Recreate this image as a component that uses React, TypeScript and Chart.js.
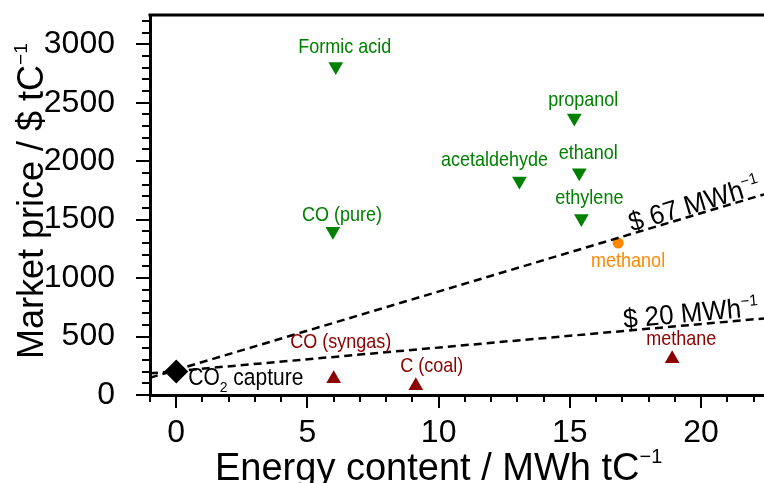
import React, { useEffect, useRef } from 'react';
import { Chart, registerables } from 'chart.js';

Chart.register(...registerables);

const FONT = 'Arial, "Liberation Sans", Helvetica, sans-serif';

const GREEN = '#008000';
const DARK_RED = '#8b0000';
const ORANGE = '#ff8800';

// Value-added chemicals
const productNames = ['Formic acid', 'propanol', 'ethanol', 'acetaldehyde', 'ethylene', 'CO (pure)'];
const productEnergy = [6.08, 15.17, 15.36, 13.08, 15.44, 5.97];
const productPrice = [2810, 2370, 1900, 1830, 1510, 1400];

// Fuels and bulk carbon
const fuelNames = ['CO (syngas)', 'C (coal)', 'methane'];
const fuelEnergy = [6.0, 9.13, 18.9];
const fuelPrice = [140, 80, 310];

const methanolName = ['methanol'];
const methanolEnergy = [16.84];
const methanolPrice = [1300];

const captureEnergy = [0];
const capturePrice = [200];

// Electricity-cost reference lines, end points across the x range
const lineEnergy = [-1, 22.4];
const line67Price = [148, 1716];
const line20Price = [185, 655];

// Axis ranges and labelled ticks
const X_MIN = -1;
const X_MAX = 22.4;
const Y_MIN = 0;
const Y_MAX = 3250;
const xTickValues = [0, 5, 10, 15, 20];
const yTickValues = [0, 500, 1000, 1500, 2000, 2500, 3000];

// Label placement relative to each marker: [dx of text centre, dy of baseline]
const productLabelOffset: [number, number][] = [[9, -13], [9, -12], [9, -14], [-25, -15], [8, -14], [9, -10]];
const fuelLabelOffset: [number, number][] = [[7, -31], [16, -14], [9, -14]];
const methanolLabelOffset: [number, number] = [10, 24];

const LABEL_SIZE = 18;
const LABEL_STRETCH = 1.12;

const pts = (xs: number[], ys: number[]) => xs.map((x, i) => ({ x, y: ys[i] }));

type Part = { t: string; size: number; dy?: number };

function drawRich(
  ctx: CanvasRenderingContext2D,
  x: number,
  y: number,
  parts: Part[],
  align: 'left' | 'center' = 'left',
  stretch = 1,
) {
  let total = 0;
  const widths = parts.map((p) => {
    ctx.font = `${p.size}px ${FONT}`;
    const w = ctx.measureText(p.t).width;
    total += w;
    return w;
  });
  ctx.save();
  ctx.translate(x, y);
  ctx.scale(1, stretch);
  let cx = align === 'center' ? -total / 2 : 0;
  ctx.textAlign = 'left';
  ctx.textBaseline = 'alphabetic';
  parts.forEach((p, i) => {
    ctx.font = `${p.size}px ${FONT}`;
    ctx.fillText(p.t, cx, (p.dy || 0) / stretch);
    cx += widths[i];
  });
  ctx.restore();
}

const decorations = {
  id: 'decorations',
  afterDatasetsDraw(chart: any) {
    const { ctx, chartArea, scales } = chart;
    const xs = scales.x;
    const ys = scales.y;
    ctx.save();

    // top frame line
    ctx.strokeStyle = '#000';
    ctx.lineWidth = 3;
    ctx.beginPath();
    ctx.moveTo(chartArea.left - 1.5, chartArea.top);
    ctx.lineTo(chartArea.right, chartArea.top);
    ctx.stroke();

    // tick marks (major + minor), drawn outside the plot
    ctx.lineWidth = 2;
    for (let v = 0; v <= 3200; v += 100) {
      const py = Math.round(ys.getPixelForValue(v));
      const len = v % 500 === 0 ? 14 : 8;
      ctx.beginPath();
      ctx.moveTo(chartArea.left, py);
      ctx.lineTo(chartArea.left - len, py);
      ctx.stroke();
    }
    for (let v = -1; v <= 22; v += 1) {
      const px = Math.round(xs.getPixelForValue(v));
      const len = v % 5 === 0 ? 13 : 7;
      ctx.beginPath();
      ctx.moveTo(px, chartArea.bottom);
      ctx.lineTo(px, chartArea.bottom + len);
      ctx.stroke();
    }

    // point labels
    ctx.fillStyle = GREEN;
    productNames.forEach((name, i) => {
      const px = xs.getPixelForValue(productEnergy[i]);
      const py = ys.getPixelForValue(productPrice[i]);
      const [dx, dy] = productLabelOffset[i];
      drawRich(ctx, px + dx, py + dy, [{ t: name, size: LABEL_SIZE }], 'center', LABEL_STRETCH);
    });
    ctx.fillStyle = DARK_RED;
    fuelNames.forEach((name, i) => {
      const px = xs.getPixelForValue(fuelEnergy[i]);
      const py = ys.getPixelForValue(fuelPrice[i]);
      const [dx, dy] = fuelLabelOffset[i];
      drawRich(ctx, px + dx, py + dy, [{ t: name, size: LABEL_SIZE }], 'center', LABEL_STRETCH);
    });
    ctx.fillStyle = ORANGE;
    {
      const px = xs.getPixelForValue(methanolEnergy[0]);
      const py = ys.getPixelForValue(methanolPrice[0]);
      drawRich(
        ctx,
        px + methanolLabelOffset[0],
        py + methanolLabelOffset[1],
        [{ t: methanolName[0], size: LABEL_SIZE }],
        'center',
        LABEL_STRETCH,
      );
    }
    ctx.fillStyle = '#000';
    {
      const px = xs.getPixelForValue(captureEnergy[0]);
      const py = ys.getPixelForValue(capturePrice[0]);
      drawRich(
        ctx,
        px + 12,
        py + 13,
        [
          { t: 'CO', size: 21 },
          { t: '2', size: 14, dy: 7 },
          { t: ' capture', size: 21 },
        ],
        'left',
        1.1,
      );
    }

    // line annotations, laid along each line
    const lineLabel = (prices: number[], atX: number, text: string, lift: number) => {
      const x0 = xs.getPixelForValue(lineEnergy[0]);
      const y0 = ys.getPixelForValue(prices[0]);
      const x1 = xs.getPixelForValue(lineEnergy[1]);
      const y1 = ys.getPixelForValue(prices[1]);
      const ang = Math.atan2(y1 - y0, x1 - x0);
      const px = xs.getPixelForValue(atX);
      const t = (px - x0) / (x1 - x0);
      const py = y0 + t * (y1 - y0);
      ctx.save();
      ctx.translate(px, py);
      ctx.rotate(ang);
      drawRich(
        ctx,
        0,
        -lift,
        [
          { t: text, size: 26 },
          { t: '\u22121', size: 15, dy: -11 },
        ],
        'left',
        1.05,
      );
      ctx.restore();
    };
    ctx.fillStyle = '#000';
    lineLabel(line67Price, 17.38, '$ 67 MWh', 2);
    lineLabel(line20Price, 17.07, '$ 20 MWh', 3);

    // axis titles
    drawRich(ctx, 215, 480, [
      { t: 'Energy content / MWh tC', size: 38 },
      { t: '\u22121', size: 20, dy: -17 },
    ]);
    ctx.save();
    ctx.translate(43, 359);
    ctx.rotate(-Math.PI / 2);
    drawRich(ctx, 0, 0, [
      { t: 'Market price / $ tC', size: 36 },
      { t: '\u22121', size: 19, dy: -16 },
    ]);
    ctx.restore();

    ctx.restore();
  },
};

const noPad = (s: any) => {
  s.paddingTop = 0;
  s.paddingBottom = 0;
  s.paddingLeft = 0;
  s.paddingRight = 0;
};

export default function App() {
  const ref = useRef<HTMLCanvasElement>(null);

  useEffect(() => {
    const canvas = ref.current;
    if (!canvas) return;
    const chart = new Chart(canvas, {
      type: 'scatter',
      data: {
        datasets: [
          {
            label: 'CO2 capture',
            data: pts(captureEnergy, capturePrice),
            pointStyle: 'rectRot',
            pointRadius: 12,
            backgroundColor: '#000',
            borderColor: '#000',
            borderWidth: 0,
            order: 0,
          },
          {
            label: 'products',
            data: pts(productEnergy, productPrice),
            pointStyle: 'triangle',
            rotation: 180,
            pointRadius: 8.5,
            backgroundColor: GREEN,
            borderColor: GREEN,
            borderWidth: 0,
            order: 1,
          },
          {
            label: 'fuels',
            data: pts(fuelEnergy, fuelPrice),
            pointStyle: 'triangle',
            pointRadius: 8.5,
            backgroundColor: DARK_RED,
            borderColor: DARK_RED,
            borderWidth: 0,
            order: 2,
          },
          {
            type: 'line',
            label: '$67/MWh',
            data: pts(lineEnergy, line67Price),
            borderColor: '#000',
            borderWidth: 2.5,
            borderDash: [8, 5],
            pointRadius: 0,
            fill: false,
            order: 4,
          },
          {
            type: 'line',
            label: '$20/MWh',
            data: pts(lineEnergy, line20Price),
            borderColor: '#000',
            borderWidth: 2.5,
            borderDash: [8, 5],
            pointRadius: 0,
            fill: false,
            order: 5,
          },
          {
            label: 'methanol',
            data: pts(methanolEnergy, methanolPrice),
            pointStyle: 'circle',
            pointRadius: 5.5,
            backgroundColor: ORANGE,
            borderColor: ORANGE,
            borderWidth: 0,
            order: 6,
          },
        ],
      },
      options: {
        responsive: false,
        animation: false,
        devicePixelRatio: 1,
        layout: { autoPadding: false, padding: { top: 15, right: 0, left: 0, bottom: 0 } },
        plugins: { legend: { display: false }, tooltip: { enabled: false } },
        scales: {
          x: {
            type: 'linear',
            min: X_MIN,
            max: X_MAX,
            grid: { display: false },
            border: { display: true, color: '#000', width: 3 },
            afterBuildTicks: (s: any) => {
              s.ticks = xTickValues.map((value) => ({ value }));
            },
            ticks: {
              color: '#000',
              padding: 11,
              maxRotation: 0,
              autoSkip: false,
              font: { family: FONT, size: 32 },
              callback: (v: any) => String(v),
            },
            afterFit: (s: any) => {
              s.height = 88;
              noPad(s);
            },
          },
          y: {
            type: 'linear',
            min: Y_MIN,
            max: Y_MAX,
            grid: { display: false },
            border: { display: true, color: '#000', width: 3 },
            afterBuildTicks: (s: any) => {
              s.ticks = yTickValues.map((value) => ({ value }));
            },
            ticks: {
              color: '#000',
              padding: 27,
              autoSkip: false,
              font: { family: FONT, size: 32 },
              callback: (v: any) => String(v),
            },
            afterFit: (s: any) => {
              s.width = 150;
              noPad(s);
            },
          },
        },
      },
      plugins: [decorations],
    });
    return () => chart.destroy();
  }, []);

  return (
    <div style={{ position: 'absolute', left: 0, top: 0, width: 764, height: 483, background: '#fff' }}>
      <canvas ref={ref} width={764} height={483} />
    </div>
  );
}
